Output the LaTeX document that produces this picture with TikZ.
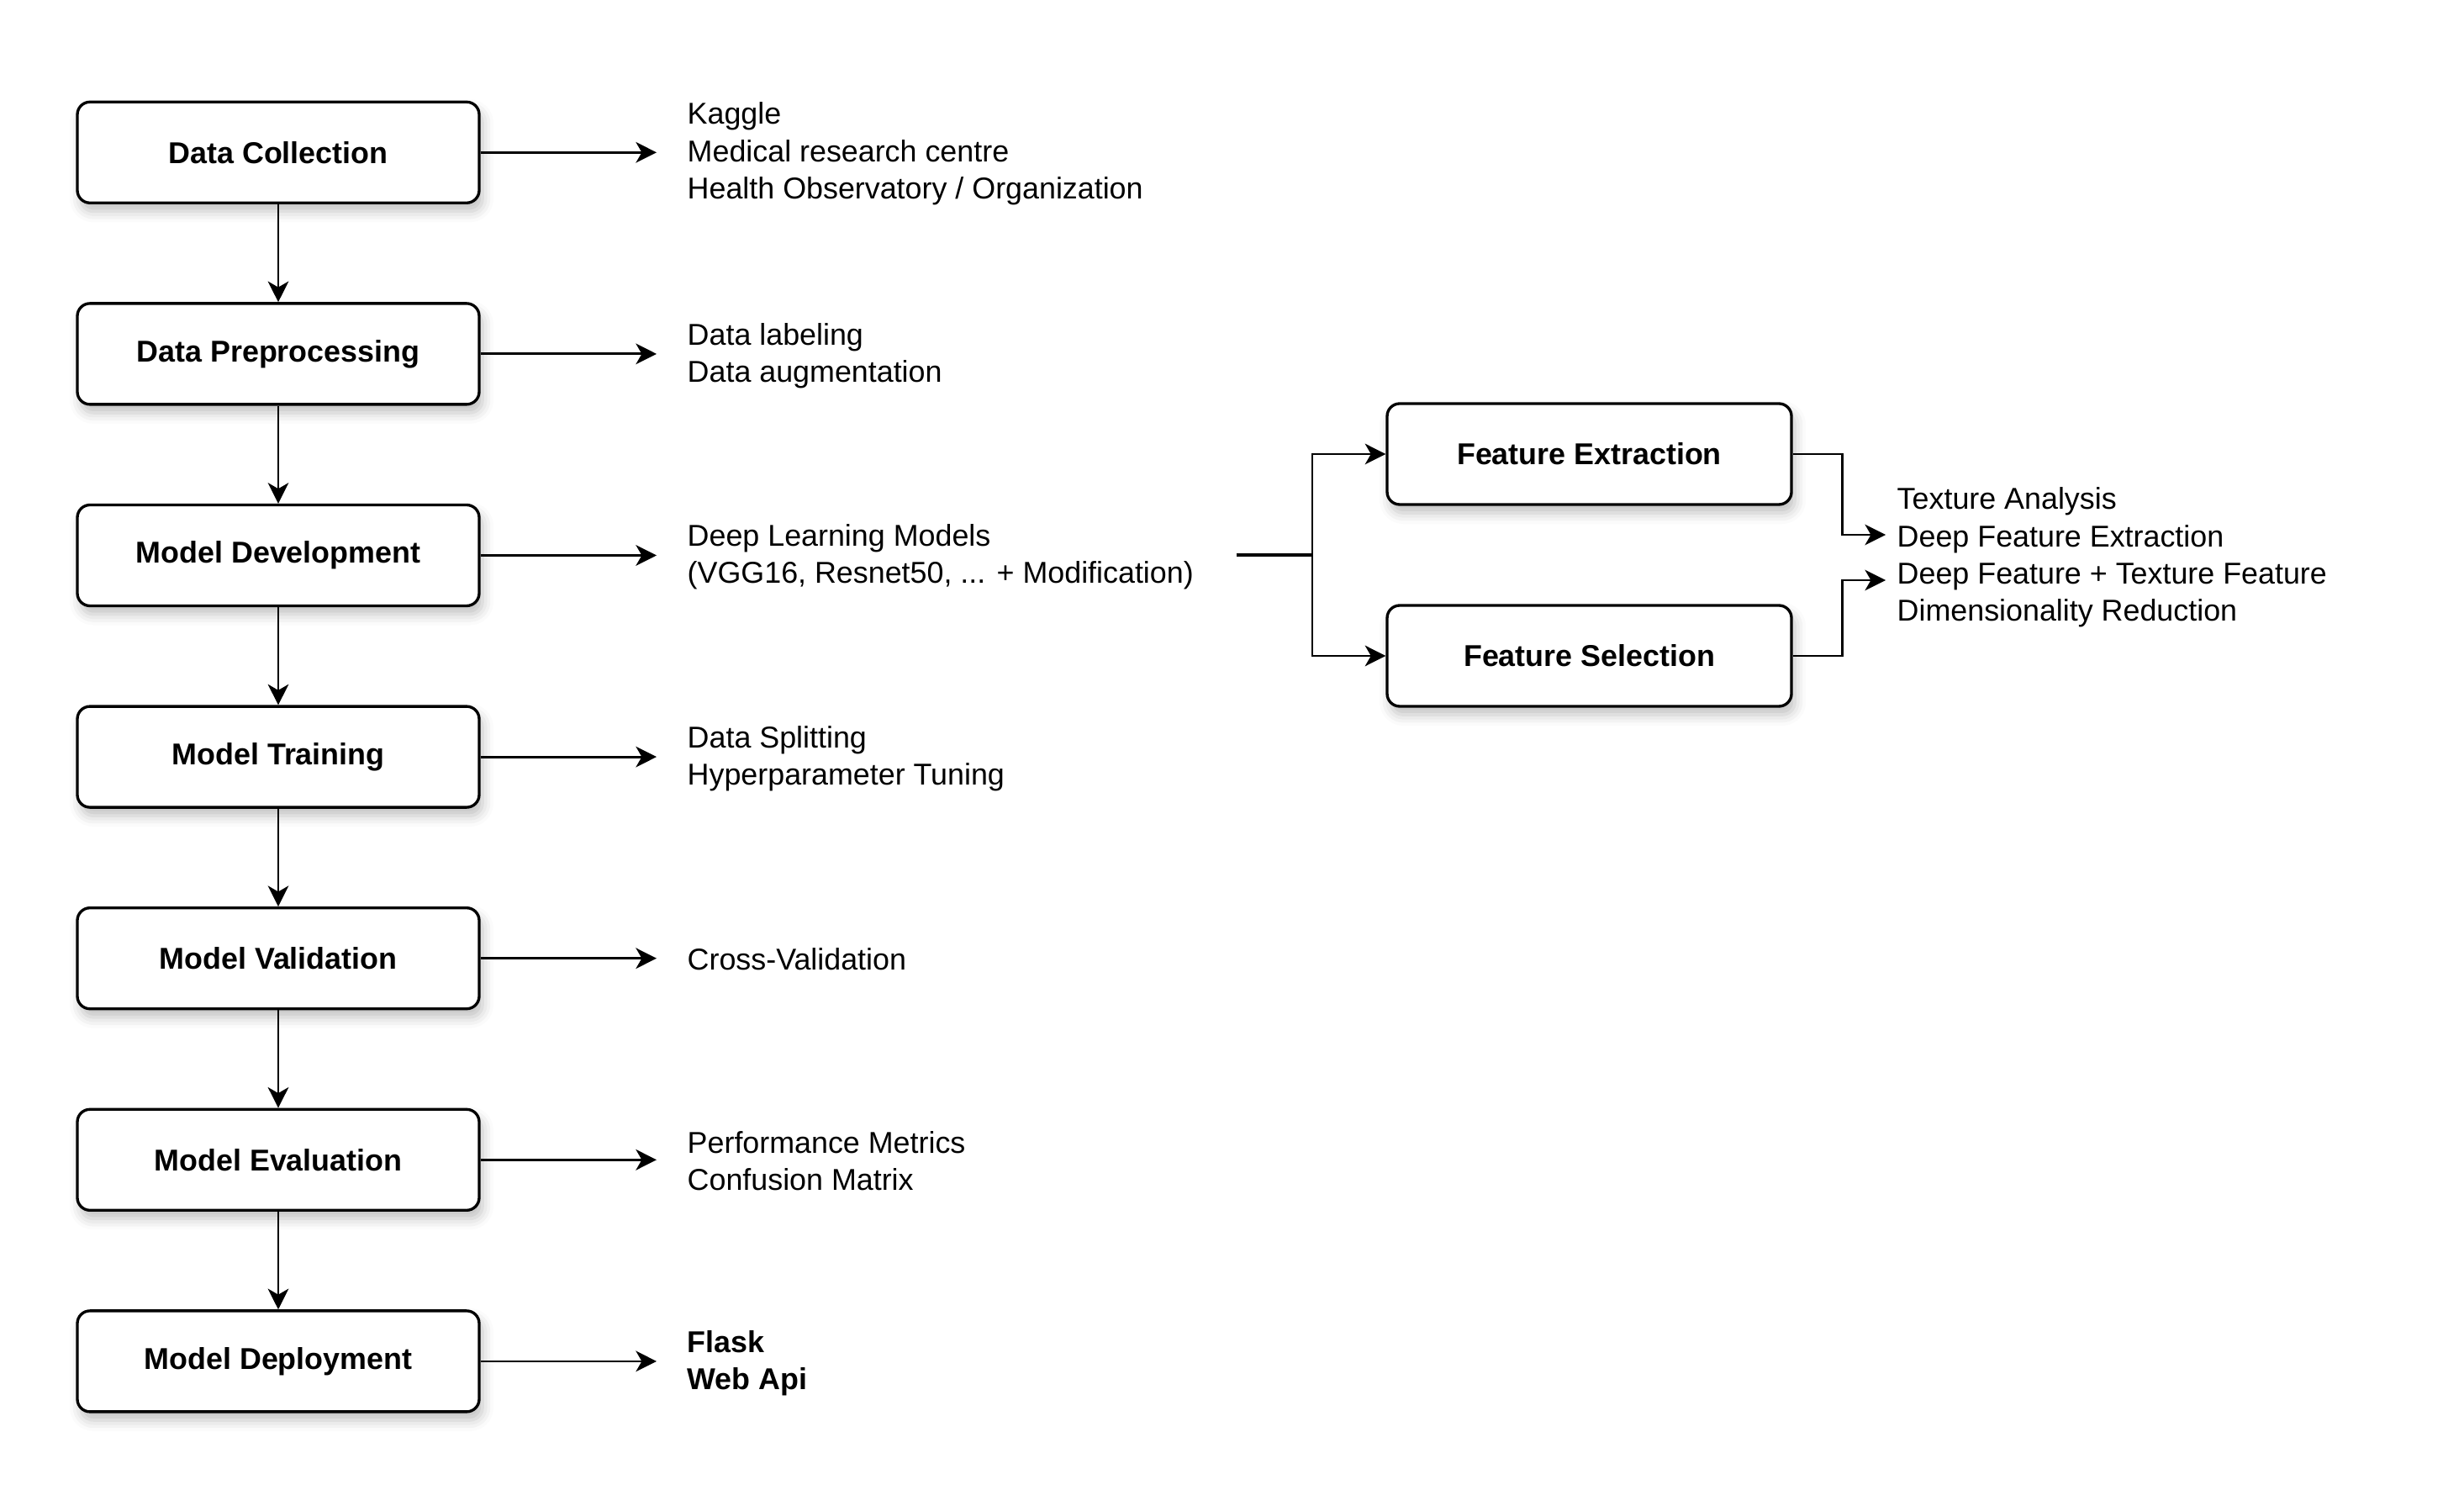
\documentclass[tikz,border=0pt]{standalone}
\usepackage{fontspec}
\setmainfont{Liberation Sans}
\usepackage{tikz}
\usetikzlibrary{positioning, arrows.meta, calc, shadows.blur}
\definecolor{FlowInk}{RGB}{0,0,0}

\begin{document}
\begin{tikzpicture}[
            stepbox/.style={rectangle, rounded corners=0.15cm, draw=FlowInk, fill=white,
                        line width=0.95pt, minimum width=4.78cm, minimum height=1.2cm,
                        font=\fontsize{10.2}{12.6}\selectfont\bfseries, align=center,
                        blur shadow={shadow xshift=0.04cm, shadow yshift=-0.1cm,
                                     shadow blur radius=0.13cm, shadow opacity=25}},
            desc/.style={anchor=west, inner sep=0pt, align=left,
                         font=\fontsize{10.2}{12.6}\selectfont},
            arr/.style={-{Stealth[length=7pt, width=7pt, inset=2pt]}, line width=0.8pt}
          ]
          \useasboundingbox (0,0) rectangle (29.31,-17.91);

          % main pipeline
          \foreach \i/\lbl in {1/Data Collection, 2/Data Preprocessing,
                               3/Model Development, 4/Model Training,
                               5/Model Validation, 6/Model Evaluation,
                               7/Model Deployment} {
            \node[stepbox] (s\i) at (3.31, {-1.813-2.396*(\i-1)}) {\lbl};
          }
          \foreach \i in {1,...,6} {
            \pgfmathtruncatemacro{\j}{\i+1}
            \draw[arr] (s\i) -- (s\j);
          }

          % descriptions
          \node[desc] (d1) at (8.17, -1.83) {Kaggle\\Medical research centre\\Health Observatory / Organization};
          \node[desc] (d2) at (8.17, -4.23) {Data labeling\\Data augmentation};
          \node[desc] (d3) at (8.17, -6.62) {Deep Learning Models\\(VGG16, Resnet50, ... + Modification)};
          \node[desc] (d4) at (8.17, -9.02) {Data Splitting\\Hyperparameter Tuning};
          \node[desc] (d5) at (8.17, -11.41) {Cross-Validation};
          \node[desc] (d6) at (8.17, -13.81) {Performance Metrics\\Confusion Matrix};
          \node[desc, font=\fontsize{10.2}{12.6}\selectfont\bfseries] (d7) at (8.17, -16.21) {Flask\\Web Api};
          \foreach \i in {1,...,7} {
            \draw[arr, shorten >=0.36cm] (s\i.east) -- (s\i.east -| d\i.west);
          }

          % features branch
          \node[stepbox, minimum width=4.81cm] (fe) at (18.905, -5.40) {Feature Extraction};
          \node[stepbox, minimum width=4.81cm] (fs) at (18.905, -7.80) {Feature Selection};
          \coordinate (br) at (15.61, -6.60);
          \draw[line width=1.1pt] ([xshift=0.5cm]d3.east |- br) -- (br);
          \draw[arr] (br) |- (fe.west);
          \draw[arr] (br) |- (fs.west);

          \node[desc] (ft) at (22.56, -6.63)
                {Texture Analysis\\Deep Feature Extraction\\Deep Feature + Texture Feature\\Dimensionality Reduction};
          \draw[arr, shorten >=0.13cm] (fe.east) -- ++(0.59,0) |- ([yshift=0.27cm]ft.west);
          \draw[arr, shorten >=0.13cm] (fs.east) -- ++(0.59,0) |- ([yshift=-0.27cm]ft.west);
        \end{tikzpicture}
\end{document}
